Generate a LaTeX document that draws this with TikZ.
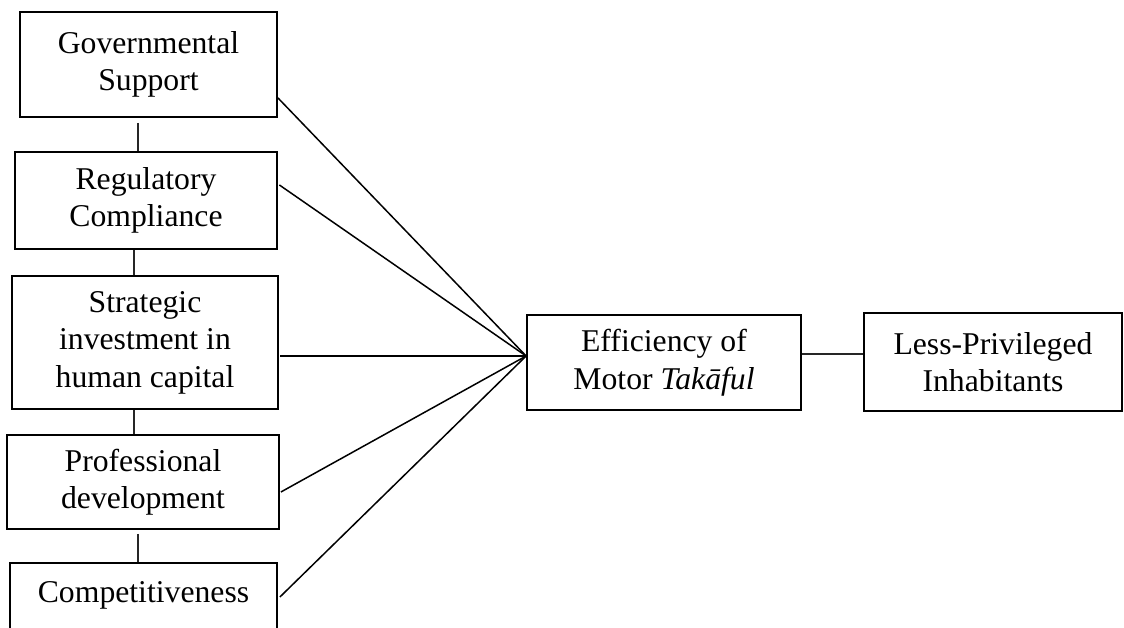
\documentclass[tikz,border=0pt]{standalone}
\usepackage{fontspec}
\setmainfont{Liberation Serif}
\usetikzlibrary{calc}
\tikzset{
  box/.style={draw, line width=1.8pt, inner sep=0pt, align=center,
    font=\fontsize{31.7pt}{37.5pt}\selectfont},
  link/.style={line width=1.5pt},
  vlink/.style={line width=1.2pt, draw=black!85}
}
\begin{document}
\begin{tikzpicture}[x=1pt, y=-1pt]
\useasboundingbox (0,0) rectangle (1124,628);
\clip (0,0) rectangle (1124,628);
\fill[white] (0,0) rectangle (1124,628);

\node[box, minimum width=257pt, minimum height=105pt] (g) at (148.5,64.5) {Governmental\\Support};
\node[box, minimum width=262pt, minimum height=97pt] (r) at (146,200.5) {Regulatory\\Compliance};
\node[box, minimum width=266pt, minimum height=133pt] (s) at (145,342.5) {Strategic\\investment in\\human capital};
\node[box, minimum width=272pt, minimum height=94pt] (p) at (143,482) {Professional\\development};
\node[box, minimum width=267pt, text height=40pt, text depth=40pt, anchor=north] (c) at (143.5,562) {Competitiveness};
\node[box, minimum width=274pt, minimum height=95pt] (e) at (664,362.5) {Efficiency of\\Motor \textit{Takāful}};
\node[box, minimum width=258pt, minimum height=98pt] (l) at (993,362) {Less-Privileged\\Inhabitants};

\coordinate (hub) at ($(e.west)+(0,-6.5)$);
\coordinate (v1) at (138,0);
\coordinate (v2) at (134,0);

% vertical connectors
\draw[vlink, shorten <=5pt] (g.south -| v1) -- (r.north -| v1);
\draw[vlink] (r.south -| v2) -- (s.north -| v2);
\draw[vlink] (s.south -| v2) -- (p.north -| v2);
\draw[vlink, shorten <=4pt] (p.south -| v1) -- (c.north -| v1);

% converging connectors
\draw[link] ($(g.south east)+(0,-20)$) -- (hub);
\draw[link] ($(r.east)+(1.5,-15.5)$) -- (hub);
\draw[link] ($(s.east |- hub)+(1.5,0)$) -- (hub);
\draw[link] ($(p.east)+(1,10)$) -- (hub);
\draw[link] ($(c.north east)+(2,35)$) -- (hub);

% right connector
\coordinate (el) at ($(e.east)+(0,-8.5)$);
\draw[vlink] (el) -- (l.west |- el);
\end{tikzpicture}
\end{document}
